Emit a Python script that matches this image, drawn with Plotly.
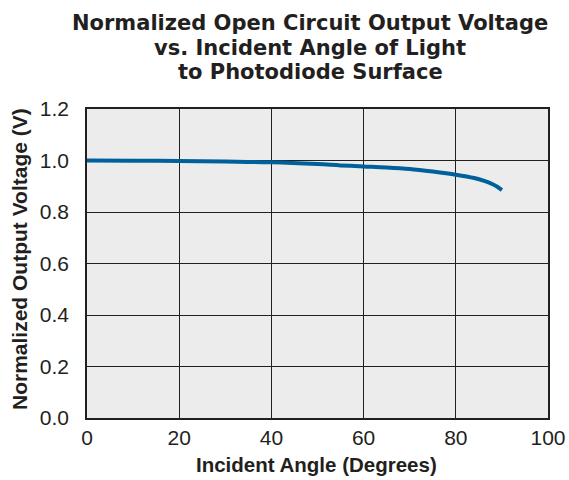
import plotly.graph_objects as go

angle = [0, 10, 20, 30, 40, 50, 55, 60, 65, 70, 75, 80, 84, 86, 88, 89, 90]
voltage = [1.000, 0.999, 0.998, 0.996, 0.993, 0.986, 0.981, 0.977, 0.973, 0.967,
           0.957, 0.945, 0.932, 0.922, 0.908, 0.898, 0.885]

title_lines = ["Normalized Open Circuit Output Voltage",
               "vs. Incident Angle of Light",
               "to Photodiode Surface"]
x_title = "Incident Angle (Degrees)"
y_title = "Normalized Output Voltage (V)"

W, H = 569, 480
# plot area in page pixels: x 87..548, y 109..418
l, t_ = 87, 109
r, b = W - 548, H - 418
pw, ph = W - l - r, H - t_ - b

def to_paper(px, py):
    return (px - l) / pw, (H - b - py) / ph

fig = go.Figure()
fig.add_trace(go.Scatter(x=angle, y=voltage, mode="lines",
                         line=dict(color="#00609c", width=4, shape="spline"),
                         showlegend=False, hoverinfo="skip"))

font = "Liberation Sans, Arial, sans-serif"
ink = "#231f20"
fig.update_layout(
    width=W, height=H,
    margin=dict(l=l, r=r, t=t_, b=b, autoexpand=False),
    paper_bgcolor="white", plot_bgcolor="#ececec",
    font=dict(family=font, color=ink),
)
fig.update_xaxes(range=[0, 100], tickvals=[0, 20, 40, 60, 80, 100],
                 showgrid=True, gridcolor=ink, gridwidth=1,
                 showline=True, linecolor=ink, linewidth=1.5, mirror=True,
                 zeroline=False, ticks="", tickfont=dict(size=21),
                 ticklabelstandoff=0, automargin=False, ticklabeloverflow="allow")
fig.update_yaxes(range=[0, 1.2], tickvals=[0, 0.2, 0.4, 0.6, 0.8, 1.0, 1.2],
                 tickformat=".1f",
                 showgrid=True, gridcolor=ink, gridwidth=1,
                 showline=True, linecolor=ink, linewidth=1.5, mirror=True,
                 zeroline=False, ticks="", tickfont=dict(size=21),
                 ticklabelstandoff=12, automargin=False, ticklabeloverflow="allow")

title_font = "DejaVu Sans, Liberation Sans, sans-serif"
for txt, yy in zip(title_lines, [23, 47.5, 72]):
    px, py = to_paper(310, yy)
    fig.add_annotation(text="<b>" + txt + "</b>", x=px, y=py, xref="paper", yref="paper",
                       showarrow=False, font=dict(size=21, family=title_font, color=ink),
                       xanchor="center", yanchor="middle")

px, py = to_paper(316, 464)
fig.add_annotation(text="<b>" + x_title + "</b>", x=px, y=py, xref="paper", yref="paper",
                   showarrow=False, font=dict(size=20.5, family=font, color=ink),
                   xanchor="center", yanchor="middle")
px, py = to_paper(19, 259)
fig.add_annotation(text="<b>" + y_title + "</b>", x=px, y=py, xref="paper", yref="paper",
                   showarrow=False, textangle=-90, font=dict(size=21, family=font, color=ink),
                   xanchor="center", yanchor="middle")

fig.write_html("out.html", config={"displayModeBar": False},
               post_script="document.body.style.margin='0';")
